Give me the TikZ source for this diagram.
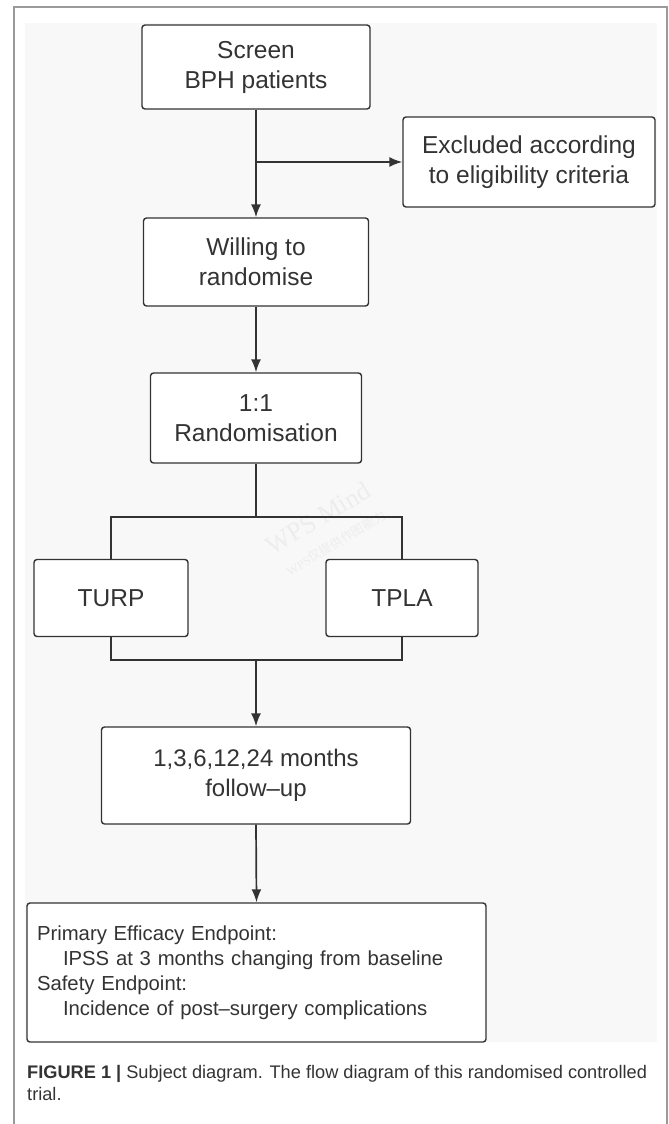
\documentclass[tikz,border=0pt]{standalone}
\usepackage{fontspec}
\setmainfont{Liberation Sans}
\newfontfamily\cjkfont{Noto Sans CJK SC}
\newfontfamily\wmfont{Liberation Serif}
\usetikzlibrary{arrows.meta,calc}
\definecolor{ink}{HTML}{333333}
\definecolor{panel}{HTML}{F8F8F8}
\definecolor{framegray}{HTML}{9A9A9A}

\begin{document}
\begin{tikzpicture}[x=1pt,y=-1pt,
    box/.style={draw=ink,fill=white,line width=1.4pt,rounded corners=3pt,
      inner sep=0pt,align=center,text=ink,
      font=\fontsize{24.5}{30}\selectfont},
    link/.style={draw=ink,line width=1.7pt},
    arr/.style={link,>={Latex[length=13pt,width=10pt]},->},
    wmark/.style={rotate=31,text=gray!14,inner sep=0pt}]
       \useasboundingbox (0,0) rectangle (669,1124);

       %okvir i siva podloga
       \draw[framegray,line width=1.2pt] (14,1124)--(14,7)--(667,7)--(667,1124);
       \fill[panel] (25,23) rectangle (657,1042);

       %vodeni zig
       \node[wmark,font=\wmfont\fontsize{26}{26}\selectfont] (wm) at (318,518) {WPS Mind};
       \node[wmark,font=\wmfont\fontsize{12.5}{12.5}\selectfont] (wmsub) at (336,543) {WPS\cjkfont 仅提供作图能力};

       %kutije
       \node[box,minimum width=228pt,minimum height=84pt] (screen) at (256,67) {Screen\\BPH patients};
       \node[box,minimum width=252pt,minimum height=90pt] (excl) at (529,162) {Excluded according\\to eligibility criteria};
       \node[box,minimum width=225pt,minimum height=88pt] (willing) at (256,262) {Willing to\\randomise};
       \node[box,minimum width=211pt,minimum height=90pt] (rand) at (256,418) {1:1\\Randomisation};
       \node[box,minimum width=154pt,minimum height=77pt] (turp) at (111,598) {TURP};
       \node[box,minimum width=152pt,minimum height=77pt] (tpla) at (402,598) {TPLA};
       \node[box,minimum width=309pt,minimum height=97pt,font=\fontsize{24}{30}\selectfont] (follow) at (256,775.5) {1,3,6,12,24 months\\follow--up};
       \node[box,align=left,text width=439pt,inner xsep=10pt,minimum height=139pt,
             font=\fontsize{20.3}{25}\selectfont] (endp) at (256.5,972.5)
             {Primary Efficacy Endpoint:\\
              \hspace*{26pt}IPSS at 3 months changing from baseline\\
              Safety Endpoint:\\
              \hspace*{26pt}Incidence of post--surgery complications};

       %strelice
       \draw[arr] (screen.south) -- (willing.north);
       \draw[arr] (screen.south |- excl.west) -- (excl.west);
       \draw[arr] (willing.south) -- (rand.north);

       %grananje
       \coordinate (split) at (256,517);
       \coordinate (join) at (256,660);
       \draw[link] (rand.south) -- (split);
       \draw[link] (turp.north) |- (split) -| (tpla.north);
       \draw[link] (turp.south) |- (join) -| (tpla.south);
       \draw[arr] (join) -- (follow.north);
       \draw[arr] (follow.south) -- (endp.north);

       %potpis
       \node[anchor=base west,inner sep=0pt,align=left,text=ink,
             font=\fontsize{18.2}{22}\selectfont] (cap) at (27,1100)
             {\textbf{FIGURE 1 |} Subject diagram. The flow diagram of this randomised controlled\\trial.};

        \end{tikzpicture}
\end{document}
